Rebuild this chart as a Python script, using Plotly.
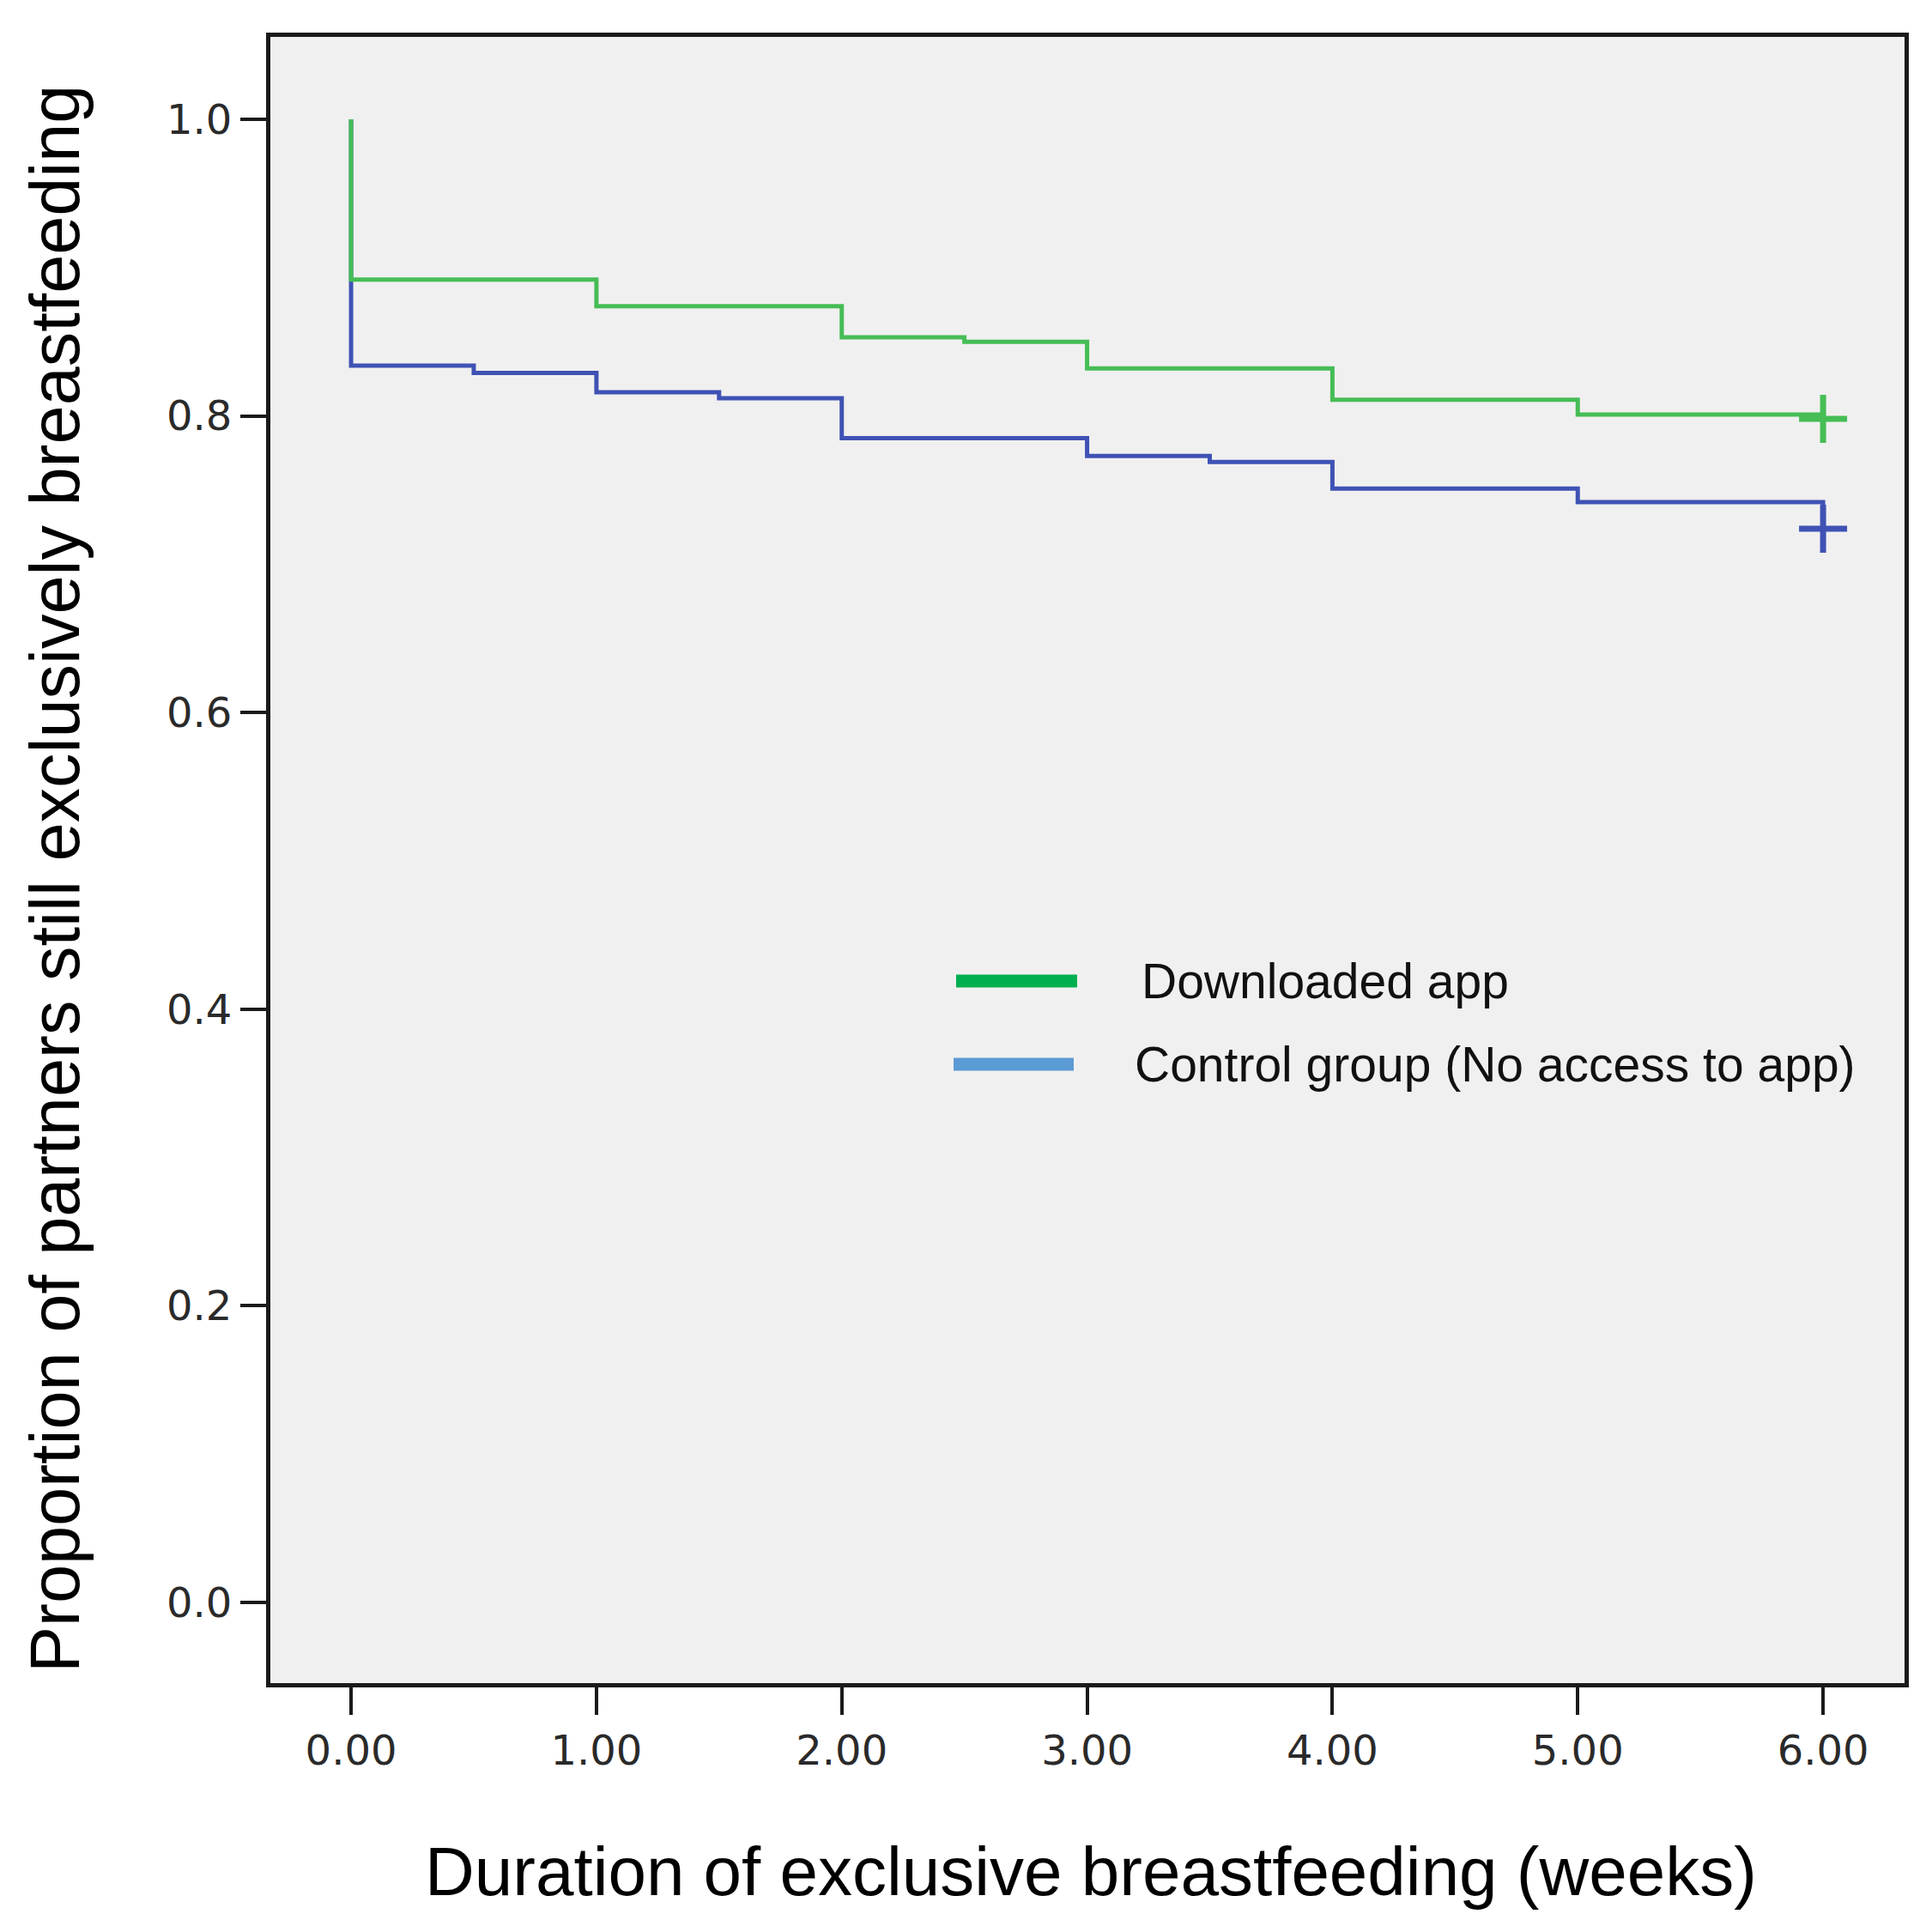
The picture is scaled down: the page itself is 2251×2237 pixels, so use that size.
import plotly.graph_objects as go

# Kaplan-Meier step data (time in weeks, survival proportion)
app_time = [0, 0, 1, 2, 2.5, 3, 4, 5, 6]
app_surv = [1.0, 0.892, 0.874, 0.853, 0.850, 0.832, 0.811, 0.801, 0.801]
app_cens_time = [6]
app_cens_surv = [0.798]

ctrl_time = [0, 0, 0.5, 1, 1.5, 2, 3, 3.5, 4, 5, 6]
ctrl_surv = [1.0, 0.834, 0.829, 0.816, 0.812, 0.785, 0.773, 0.769, 0.751, 0.742, 0.724]
ctrl_cens_time = [6]
ctrl_cens_surv = [0.724]

x_ticks = [0, 1, 2, 3, 4, 5, 6]
x_tick_labels = ["0.00", "1.00", "2.00", "3.00", "4.00", "5.00", "6.00"]
y_ticks = [0, 0.2, 0.4, 0.6, 0.8, 1.0]
y_tick_labels = ["0.0", "0.2", "0.4", "0.6", "0.8", "1.0"]

legend_labels = ["Downloaded app", "Control group (No access to app)"]

GREEN = "#46bd55"
BLUE = "#3f52b4"
LEG_GREEN = "#00b050"
LEG_BLUE = "#5b9bd5"
TITLE_FONT = "Liberation Sans, Arial, sans-serif"
TICK_FONT = "DejaVu Sans, Verdana, sans-serif"

fig = go.Figure()
fig.add_trace(go.Scatter(x=ctrl_time, y=ctrl_surv, mode="lines", line_shape="hv",
                         line=dict(color=BLUE, width=5), showlegend=False))
fig.add_trace(go.Scatter(x=app_time, y=app_surv, mode="lines", line_shape="hv",
                         line=dict(color=GREEN, width=5), showlegend=False))
fig.add_trace(go.Scatter(x=ctrl_cens_time, y=ctrl_cens_surv, mode="markers",
                         marker=dict(symbol="cross-thin", size=40, line=dict(color=BLUE, width=7)),
                         showlegend=False))
fig.add_trace(go.Scatter(x=app_cens_time, y=app_cens_surv, mode="markers",
                         marker=dict(symbol="cross-thin", size=40, line=dict(color=GREEN, width=7)),
                         showlegend=False))

W, H = 2251, 2237
ml, mr, mt, mb = 307, 40, 35, 284
pw, ph = W - ml - mr, H - mt - mb


def px_x(p):
    return (p - ml) / pw


def px_y(p):
    return 1 - (p - mt) / ph


# custom legend
for lab, col, yy, x0, x1, tx in zip(legend_labels, [LEG_GREEN, LEG_BLUE],
                                     [1135, 1232], [1106, 1103], [1247, 1243], [1320, 1312]):
    fig.add_shape(type="line", xref="paper", yref="paper",
                  x0=px_x(x0), x1=px_x(x1), y0=px_y(yy), y1=px_y(yy),
                  line=dict(color=col, width=15))
    fig.add_annotation(x=px_x(tx), y=px_y(yy), xref="paper", yref="paper",
                       text=lab, showarrow=False, xanchor="left", yanchor="middle",
                       font=dict(family=TITLE_FONT, size=57, color="#111"))

# axis titles
fig.add_annotation(x=px_x(56), y=px_y(1016), xref="paper", yref="paper",
                   text="Proportion of partners still exclusively breastfeeding",
                   textangle=-90, showarrow=False, xanchor="center", yanchor="middle",
                   font=dict(family=TITLE_FONT, size=81, color="#000"))
fig.add_annotation(x=px_x(1263), y=px_y(2172), xref="paper", yref="paper",
                   text="Duration of exclusive breastfeeding (weeks)",
                   showarrow=False, xanchor="center", yanchor="middle",
                   font=dict(family=TITLE_FONT, size=80, color="#000"))

fig.update_layout(
    width=W, height=H,
    margin=dict(l=ml, r=mr, t=mt, b=mb),
    paper_bgcolor="white", plot_bgcolor="#f0f0f0",
    showlegend=False,
)
fig.update_xaxes(range=[-0.329, 6.332], tickvals=x_ticks, ticktext=x_tick_labels,
                 showgrid=False, zeroline=False, showline=True, linecolor="#1a1a1a", linewidth=5,
                 mirror=True, ticks="outside", ticklen=32, tickwidth=4, tickcolor="#1a1a1a",
                 tickfont=dict(family=TICK_FONT, size=48, color="#2a2a2a"))
fig.update_yaxes(range=[-0.0544, 1.0556], tickvals=y_ticks, ticktext=y_tick_labels,
                 showgrid=False, zeroline=False, showline=True, linecolor="#1a1a1a", linewidth=5,
                 mirror=True, ticks="outside", ticklen=30, tickwidth=4, tickcolor="#1a1a1a",
                 tickfont=dict(family=TICK_FONT, size=48, color="#2a2a2a"))

fig.write_html("out.html")
